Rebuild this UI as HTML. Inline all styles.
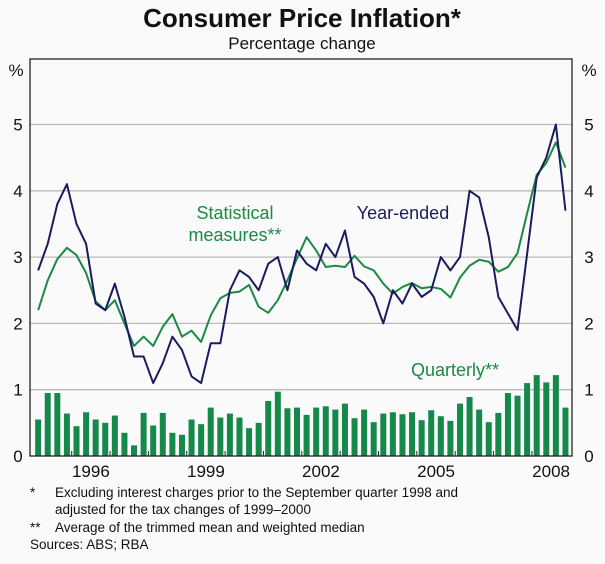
<!DOCTYPE html>
<html><head><meta charset="utf-8"><style>
body{margin:0;background:#fafafa;}
svg text{font-family:"Liberation Sans",Arial,sans-serif;}
</style></head><body>
<svg width="605" height="559" xmlns="http://www.w3.org/2000/svg">
<rect x="0" y="0" width="605" height="559" fill="#fafafa"/>
<text x="302" y="27" text-anchor="middle" font-size="26" font-weight="bold" fill="#111">Consumer Price Inflation*</text>
<text x="302" y="49" text-anchor="middle" font-size="17" fill="#111">Percentage change</text>
<g id="grid"></g>
<g id="bars"></g>
<g id="lines"></g>
<rect x="30" y="59" width="542" height="397" fill="none" stroke="#222" stroke-width="1.3"/>
<g id="axes"></g>
<text x="16" y="76" text-anchor="middle" font-size="17" fill="#111">%</text>
<text x="589" y="76" text-anchor="middle" font-size="17" fill="#111">%</text>
<text x="235" y="219" text-anchor="middle" font-size="18" fill="#1a8a45">Statistical</text>
<text x="235" y="241" text-anchor="middle" font-size="18" fill="#1a8a45">measures**</text>
<text x="403" y="219" text-anchor="middle" font-size="18" fill="#1b1b5e">Year-ended</text>
<text x="455" y="376" text-anchor="middle" font-size="18" fill="#1a8a45">Quarterly**</text>
<g font-size="13.5" fill="#111">
<text x="30" y="497">*</text><text x="55" y="497">Excluding interest charges prior to the September quarter 1998 and</text>
<text x="55" y="514">adjusted for the tax changes of 1999–2000</text>
<text x="30" y="532">**</text><text x="55" y="532">Average of the trimmed mean and weighted median</text>
<text x="30" y="549">Sources: ABS; RBA</text>
</g>
</svg>
<script>
const yearLabels=["1996","1999","2002","2005","2008"];
const yTicks=[0,1,2,3,4,5];
const yearEnded=[2.8,3.2,3.8,4.1,3.5,3.2,2.3,2.2,2.6,2.1,1.5,1.5,1.1,1.4,1.8,1.6,1.2,1.1,1.7,1.7,2.5,2.8,2.7,2.5,2.9,3.0,2.5,3.1,2.9,2.8,3.2,3.0,3.4,2.7,2.6,2.4,2.0,2.5,2.3,2.6,2.4,2.5,3.0,2.8,3.0,4.0,3.9,3.3,2.4,2.15,1.9,3.05,4.2,4.5,5.0,3.7];
const statMeasures=[2.2,2.65,2.97,3.14,3.03,2.76,2.33,2.2,2.35,2.0,1.66,1.8,1.66,1.95,2.14,1.8,1.89,1.72,2.12,2.38,2.46,2.48,2.58,2.25,2.16,2.35,2.65,2.98,3.3,3.1,2.85,2.87,2.85,3.02,2.86,2.8,2.6,2.45,2.55,2.61,2.53,2.55,2.52,2.39,2.69,2.87,2.96,2.93,2.78,2.85,3.06,3.66,4.24,4.42,4.73,4.35];
const quarterly=[0.55,0.95,0.95,0.64,0.45,0.66,0.55,0.50,0.61,0.35,0.16,0.65,0.46,0.65,0.35,0.32,0.55,0.48,0.73,0.58,0.64,0.58,0.42,0.50,0.83,0.97,0.72,0.73,0.62,0.73,0.75,0.70,0.79,0.57,0.70,0.51,0.64,0.66,0.63,0.66,0.54,0.69,0.60,0.53,0.79,0.89,0.70,0.51,0.65,0.95,0.91,1.10,1.22,1.11,1.22,0.73];
const startYear=1995.125;
const NS="http://www.w3.org/2000/svg";
function xT(t){return 71.7+(t-1996)*38.35;}
function xI(i){return xT(startYear+i*0.25);}
function yV(v){return 456-v*66.3;}
function mk(tag,attrs,parent){const e=document.createElementNS(NS,tag);for(const k in attrs)e.setAttribute(k,attrs[k]);document.getElementById(parent).appendChild(e);return e;}
yTicks.forEach(v=>{
  if(v>0){const g=mk('line',{x1:30,x2:572,y1:yV(v),y2:yV(v),stroke:'#bbb','stroke-width':1.3},'grid');
  
  }
  const l=mk('text',{x:18,y:yV(v)+6,'text-anchor':'middle','font-size':17,fill:'#111'},'axes');l.textContent=v;
  
  
  const r=mk('text',{x:589,y:yV(v)+6,'text-anchor':'middle','font-size':17,fill:'#111'},'axes');r.textContent=v;
  
  
});
for(let y=1996;y<=2008;y++){
  const t=mk('line',{x1:xT(y),x2:xT(y),y1:456,y2:451,stroke:'#222','stroke-width':1},'axes');
  
  
}
yearLabels.forEach(s=>{
  const y=+s;
  const t=mk('text',{x:xT(y+0.5),y:477,'text-anchor':'middle','font-size':17,fill:'#111'},'axes');t.textContent=s;
  
  
});
quarterly.forEach((v,i)=>{
  const b=mk('rect',{x:xI(i)-3,y:yV(v),width:6,height:456-yV(v),fill:'#15884a'},'bars');
  
  
});
function line(arr,color,name){
  const p=mk('polyline',{points:arr.map((v,i)=>xI(i)+','+yV(v)).join(' '),fill:'none',stroke:color,'stroke-width':2,'stroke-linejoin':'round'},'lines');
  
  
}
line(statMeasures,'#1a8a45','statistical-measures-line');
line(yearEnded,'#1b1b5e','year-ended-line');
</script>
</body></html>
